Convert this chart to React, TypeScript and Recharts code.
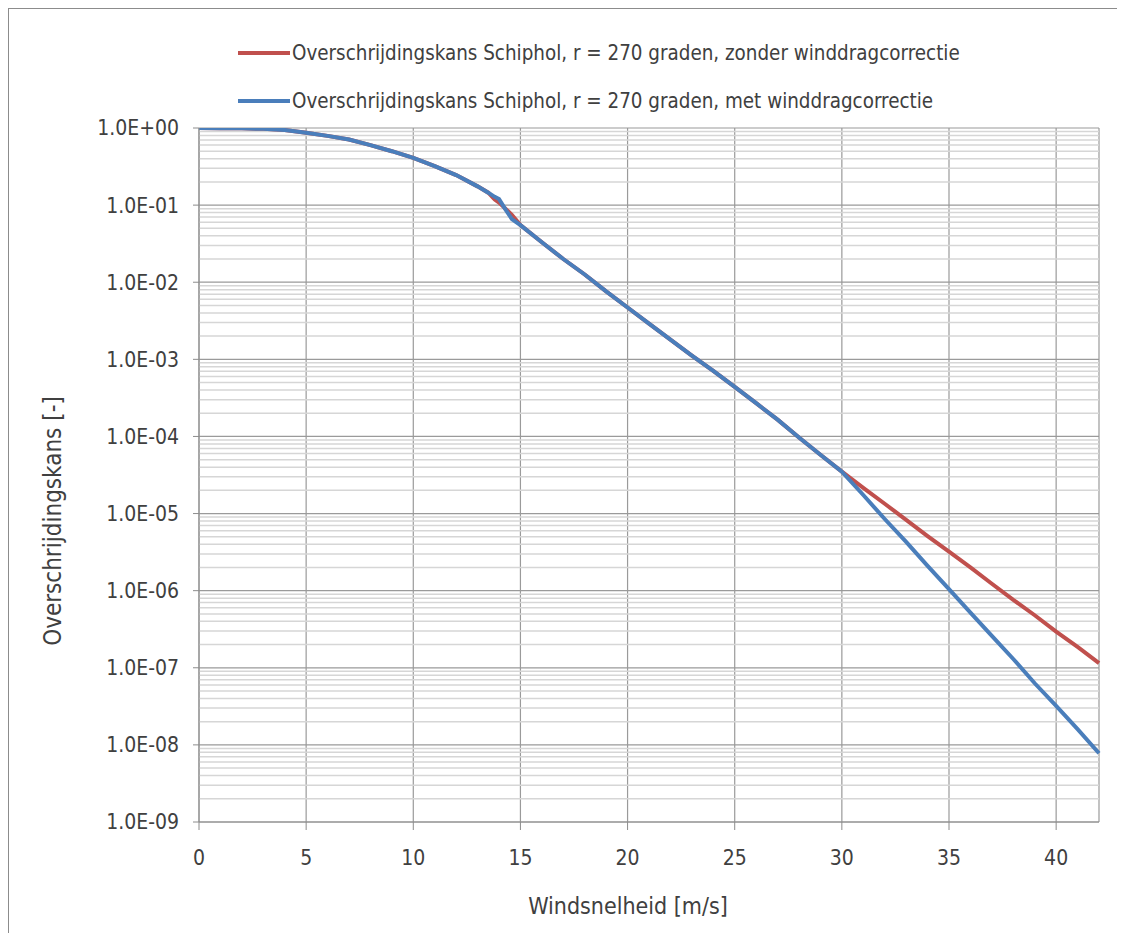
import { LineChart, Line, XAxis, YAxis, CartesianGrid, ReferenceLine } from 'recharts';

// Overschrijdingskans Schiphol, r = 270 graden

const windSpeed = [
  0, 1, 2, 3, 4, 5, 6, 7, 8, 9, 10, 11, 12, 13, 13.5, 13.8, 14, 14.3, 14.6, 15,
  16, 17, 18, 19, 20, 21, 22, 23, 24, 25, 26, 27, 28, 29, 30,
  31, 32, 33, 34, 35, 36, 37, 38, 39, 40, 41, 42,
];

const zonderCorrectie = [
  1.0, 0.995, 0.99, 0.975, 0.94, 0.87, 0.79, 0.71, 0.6, 0.5, 0.41, 0.32, 0.245, 0.175, 0.145, 0.118, 0.108, 0.09, 0.075, 0.055,
  3.3e-2, 2.0e-2, 1.26e-2, 7.6e-3, 4.7e-3, 2.9e-3, 1.8e-3, 1.12e-3, 7.1e-4, 4.4e-4, 2.7e-4, 1.65e-4, 9.7e-5, 5.8e-5, 3.5e-5,
  2.15e-5, 1.34e-5, 8.3e-6, 5.1e-6, 3.2e-6, 2.0e-6, 1.23e-6, 7.6e-7, 4.8e-7, 2.95e-7, 1.86e-7, 1.15e-7,
];

const metCorrectie = [
  1.0, 0.995, 0.99, 0.975, 0.94, 0.87, 0.79, 0.71, 0.6, 0.5, 0.41, 0.32, 0.245, 0.175, 0.145, 0.128, 0.12, 0.088, 0.066, 0.055,
  3.3e-2, 2.0e-2, 1.26e-2, 7.6e-3, 4.7e-3, 2.9e-3, 1.8e-3, 1.12e-3, 7.1e-4, 4.4e-4, 2.7e-4, 1.65e-4, 9.7e-5, 5.8e-5, 3.5e-5,
  1.74e-5, 8.5e-6, 4.3e-6, 2.1e-6, 1.05e-6, 5.2e-7, 2.6e-7, 1.3e-7, 6.3e-8, 3.2e-8, 1.6e-8, 7.8e-9,
];

const xTicks = [0, 5, 10, 15, 20, 25, 30, 35, 40];
const yTicks = [1, 1e-1, 1e-2, 1e-3, 1e-4, 1e-5, 1e-6, 1e-7, 1e-8, 1e-9];
const minorSteps = [2, 3, 4, 5, 6, 7, 8, 9];

const data = windSpeed.map((v, i) => ({ v, zonder: zonderCorrectie[i], met: metCorrectie[i] }));
const minorLines = yTicks.slice(1).flatMap((d) => minorSteps.map((m) => m * d));

const RED = '#c0504d';
const BLUE = '#4a7ebb';
const FONT = "'Liberation Sans Narrow', 'DejaVu Sans Condensed', 'Open Sans', sans-serif";
const TEXT = '#404040';

function fmtExp(v: number) {
  const e = Math.round(Math.log10(v));
  return `1.0E${e < 0 ? '-' : '+'}${String(Math.abs(e)).padStart(2, '0')}`;
}

const legendItems = [
  { color: RED, label: 'Overschrijdingskans Schiphol, r = 270 graden, zonder winddragcorrectie' },
  { color: BLUE, label: 'Overschrijdingskans Schiphol, r = 270 graden, met winddragcorrectie' },
];

function XTitle({ viewBox }: any) {
  const cx = viewBox.x + viewBox.width / 2 - 21;
  return (
    <text x={cx} y={897} textAnchor="middle" dominantBaseline="central" fill={TEXT} fontSize={23} fontFamily={FONT}>
      Windsnelheid [m/s]
    </text>
  );
}

function YTitle({ viewBox }: any) {
  const cy = viewBox.y + viewBox.height / 2 + 46;
  return (
    <text
      x={44}
      y={cy}
      transform={`rotate(-90, 44, ${cy})`}
      textAnchor="middle"
      dominantBaseline="central"
      fill={TEXT}
      fontSize={24}
      fontFamily={FONT}
    >
      Overschrijdingskans [-]
    </text>
  );
}

export default function App() {
  return (
    <div
      style={{
        position: 'relative',
        width: 1109,
        height: 925,
        borderTop: '1px solid #8c8c8c',
        borderLeft: '1px solid #8c8c8c',
        boxSizing: 'border-box',
        background: '#fff',
        fontFamily: FONT,
        overflow: 'hidden',
      }}
    >
      <div style={{ position: 'absolute', left: 229, top: 20 }}>
        {legendItems.map((it) => (
          <div key={it.label} style={{ display: 'flex', alignItems: 'center', height: 48 }}>
            <div style={{ width: 52, height: 4, background: it.color, marginRight: 2 }} />
            <span style={{ fontSize: 20.4, color: TEXT, whiteSpace: 'nowrap' }}>{it.label}</span>
          </div>
        ))}
      </div>
      <LineChart
        width={1108}
        height={932}
        data={data}
        margin={{ top: 119, right: 18, bottom: 29, left: 0 }}
        style={{ position: 'absolute', left: 0, top: 0 }}
      >
        {minorLines.map((y) => (
          <ReferenceLine key={y} y={y} stroke="#d6d6d6" strokeWidth={1.5} ifOverflow="hidden" />
        ))}
        <CartesianGrid stroke="#9a9a9a" strokeWidth={1.2} />
        <XAxis
          dataKey="v"
          type="number"
          domain={[0, 42]}
          ticks={xTicks}
          interval={0}
          height={90}
          tickSize={8}
          tickMargin={20}
          stroke="#8c8c8c"
          tick={{ fill: TEXT, fontSize: 21, fontFamily: FONT }}
          label={<XTitle />}
        />
        <YAxis
          scale="log"
          domain={[1e-9, 1]}
          ticks={yTicks}
          interval={0}
          width={190}
          tickSize={6}
          tickMargin={14}
          stroke="#8c8c8c"
          tickFormatter={fmtExp}
          allowDataOverflow
          tick={{ fill: TEXT, fontSize: 21, fontFamily: FONT }}
          label={<YTitle />}
        />
        <Line dataKey="zonder" stroke={RED} strokeWidth={4} dot={false} isAnimationActive={false} type="linear" />
        <Line dataKey="met" stroke={BLUE} strokeWidth={4} dot={false} isAnimationActive={false} type="linear" />
      </LineChart>
    </div>
  );
}
